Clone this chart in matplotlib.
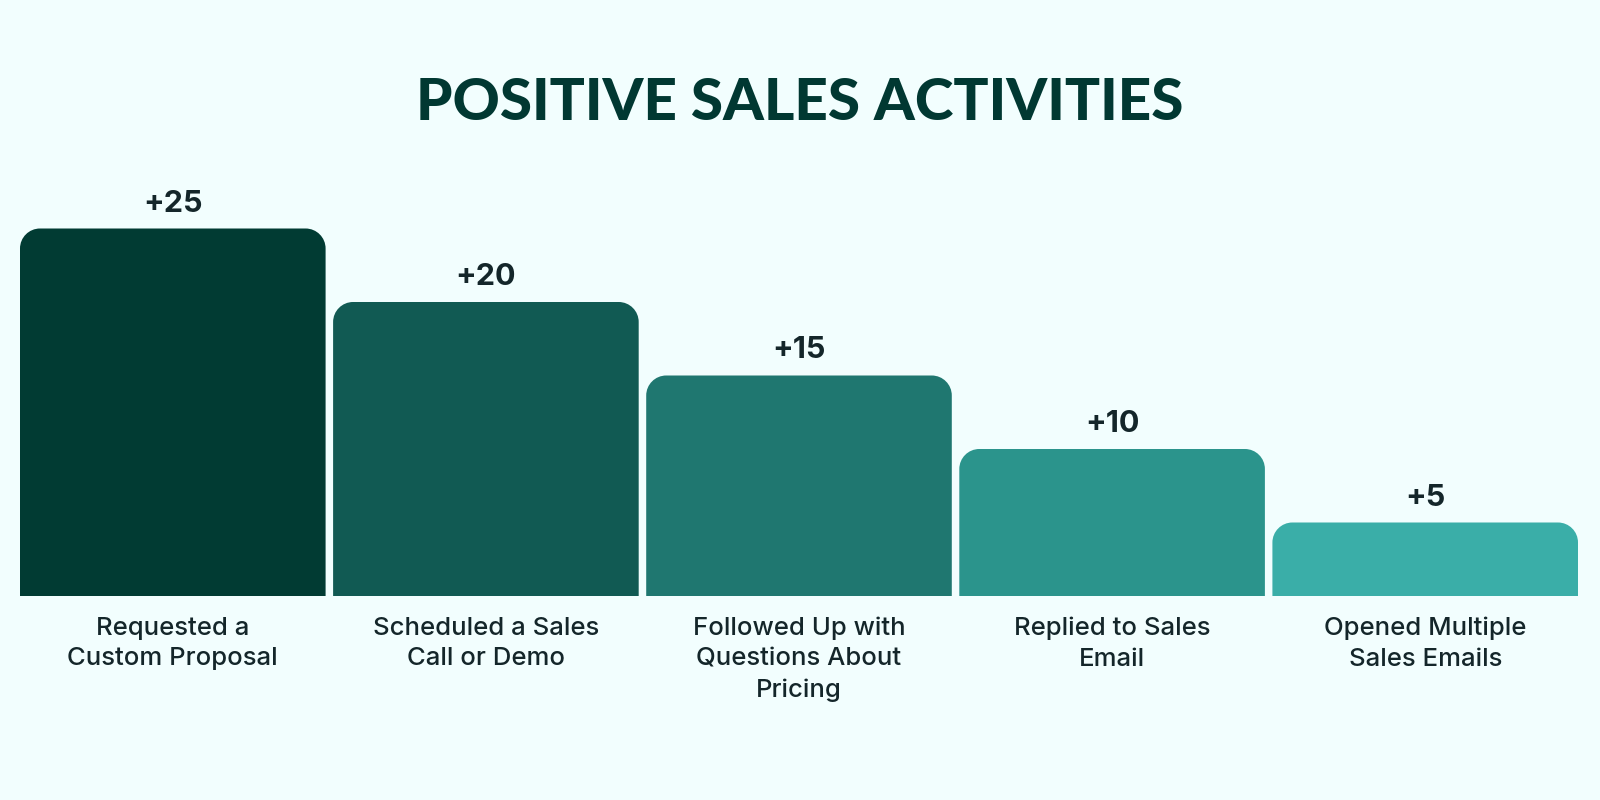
import matplotlib
matplotlib.use("Agg")
import matplotlib.pyplot as plt
from matplotlib.path import Path
from matplotlib.patches import PathPatch

categories = ["Requested a\nCustom Proposal", "Scheduled a Sales\nCall or Demo",
              "Followed Up with\nQuestions About\nPricing", "Replied to Sales\nEmail",
              "Opened Multiple\nSales Emails"]
values = [25, 20, 15, 10, 5]
value_labels = ["+25", "+20", "+15", "+10", "+5"]
colors = ["#013B33", "#115A53", "#1F7770", "#2B948C", "#3AAEA8"]

BG = "#F2FEFE"
fig = plt.figure(figsize=(16, 8), dpi=100, facecolor=BG)
ax = fig.add_axes([20/1600, 1-596/800, 1558/1600, 441/800])
ax.set_facecolor(BG)
ax.set_xlim(-0.488, 4.488)
ax.set_ylim(0, 30)
ax.axis("off")

w = 0.976
xpx = 1558/4.976
ypx = 441/30
rx = 20/xpx
ry = 20/ypx
k = 0.5523


def top_rounded(x0, x1, h):
    verts = [(x0, 0), (x0, h - ry),
             (x0, h - ry + k*ry), (x0 + rx - k*rx, h), (x0 + rx, h),
             (x1 - rx, h),
             (x1 - rx + k*rx, h), (x1, h - ry + k*ry), (x1, h - ry),
             (x1, 0), (x0, 0)]
    codes = [Path.MOVETO, Path.LINETO,
             Path.CURVE4, Path.CURVE4, Path.CURVE4,
             Path.LINETO,
             Path.CURVE4, Path.CURVE4, Path.CURVE4,
             Path.LINETO, Path.CLOSEPOLY]
    return Path(verts, codes)


for i, (v, c) in enumerate(zip(values, colors)):
    ax.add_patch(PathPatch(top_rounded(i - w/2, i + w/2, v), fc=c, ec="none"))
    ax.text(i, v + 25/ypx, value_labels[i], ha="center", va="center",
            fontsize=22, fontweight="bold", family="Inter", color="#14262A")
    ax.text(i, -21/ypx, categories[i], ha="center", va="top", fontsize=18.5,
            family="Inter", fontweight="medium", color="#14262A", linespacing=1.41,
            clip_on=False)

fig.text(0.5, 1-103/800, "POSITIVE SALES ACTIVITIES", ha="center", va="center",
         fontsize=42, fontweight="black", family="Lato", color="#013832")

fig.savefig("out.png", dpi=100, facecolor=BG)
